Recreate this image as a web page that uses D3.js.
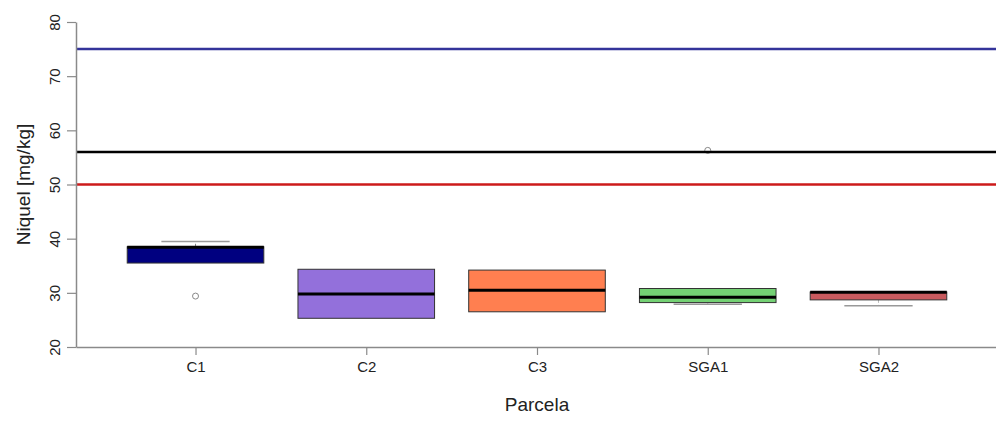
<!DOCTYPE html>
<html>
<head>
<meta charset="utf-8">
<script src="https://cdn.jsdelivr.net/npm/d3@7"></script>
<style>
  html, body { margin: 0; padding: 0; background: #fff; }
  svg { display: block; font-family: "Liberation Sans", Arial, sans-serif; }
</style>
</head>
<body>
<svg id="chart" width="996" height="423"></svg>
<script>
// ---- data ----
const categories = ["C1", "C2", "C3", "SGA1", "SGA2"];
const boxColors = ["#000080", "#9370DB", "#FF7F50", "#74D174", "#C85A5E"];
const q1 = [35.5, 25.3, 26.5, 28.2, 28.7];
const medians = [38.4, 29.8, 30.5, 29.2, 30.1];
const q3 = [38.5, 34.35, 34.2, 30.8, 30.15];
const whiskerLow = [35.5, 25.3, 26.5, 27.9, 27.6];
const whiskerHigh = [39.5, 34.35, 34.2, 30.8, 30.15];
const outliers = [[29.4], [], [], [56.3], []];
const refValues = [75, 56, 50];
const refColors = ["#34349a", "#000000", "#cc1a1a"];
const yTicks = [20, 30, 40, 50, 60, 70, 80];
const yLabel = "Niquel [mg/kg]";
const xLabel = "Parcela";

// ---- layout ----
const mLeft = 76, mRight = 998, mTop = 22, mBottom = 347;
const svg = d3.select("#chart");

const x = d3.scalePoint().domain(categories).range([mLeft, mRight]).padding(0.7);
const y = d3.scaleLinear().domain([20, 80]).range([mBottom, mTop]);
const step = x.step();
const boxW = step * 0.8;
const capW = step * 0.4;
const axisColor = "#8a8a8a";
const textColor = "#222";

const data = categories.map((c, i) => ({
  c, color: boxColors[i], q1: q1[i], med: medians[i], q3: q3[i],
  lo: whiskerLow[i], hi: whiskerHigh[i], out: outliers[i]
}));

const g = svg.append("g");
data.forEach(d => {
  const cx = x(d.c);
  if (d.hi > d.q3) {
    g.append("line").attr("x1", cx).attr("x2", cx).attr("y1", y(d.q3)).attr("y2", y(d.hi))
      .attr("stroke", "#888").attr("stroke-width", 1).attr("stroke-dasharray", "3,2");
    g.append("line").attr("x1", cx - capW / 2).attr("x2", cx + capW / 2).attr("y1", y(d.hi)).attr("y2", y(d.hi))
      .attr("stroke", "#999").attr("stroke-width", 1.5);
  }
  if (d.lo < d.q1) {
    g.append("line").attr("x1", cx).attr("x2", cx).attr("y1", y(d.q1)).attr("y2", y(d.lo))
      .attr("stroke", "#bbb").attr("stroke-width", 1).attr("stroke-dasharray", "3,2");
    g.append("line").attr("x1", cx - capW / 2).attr("x2", cx + capW / 2).attr("y1", y(d.lo)).attr("y2", y(d.lo))
      .attr("stroke", "#999").attr("stroke-width", 1.5);
  }
  g.append("rect").attr("x", cx - boxW / 2).attr("y", y(d.q3))
    .attr("width", boxW).attr("height", y(d.q1) - y(d.q3))
    .attr("fill", d.color).attr("stroke", "#333").attr("stroke-width", 1);
  g.append("line").attr("x1", cx - boxW / 2).attr("x2", cx + boxW / 2)
    .attr("y1", y(d.med)).attr("y2", y(d.med))
    .attr("stroke", "#000").attr("stroke-width", 3);
  d.out.forEach(v => {
    g.append("circle").attr("cx", cx).attr("cy", y(v)).attr("r", 3)
      .attr("fill", "none").attr("stroke", "#888").attr("stroke-width", 1);
  });
});

// reference lines
svg.append("g").selectAll("line").data(refValues).join("line")
  .attr("x1", mLeft).attr("x2", mRight)
  .attr("y1", d => y(d)).attr("y2", d => y(d))
  .attr("stroke", (d, i) => refColors[i]).attr("stroke-width", 2.5);

// y axis
const yAxis = svg.append("g").attr("transform", `translate(${mLeft},0)`)
  .call(d3.axisLeft(y).tickValues(yTicks).tickSize(9).tickSizeOuter(0).tickPadding(7));
yAxis.select(".domain").attr("stroke", axisColor).attr("stroke-width", 1.5);
yAxis.selectAll(".tick line").attr("stroke", axisColor).attr("stroke-width", 1.2);
yAxis.selectAll(".tick text")
  .attr("fill", textColor).attr("font-size", 15)
  .attr("transform", "rotate(-90)")
  .attr("x", 0).attr("y", -16)
  .attr("dy", 0)
  .attr("text-anchor", "middle");

// x axis
const xAxis = svg.append("g").attr("transform", `translate(0,${mBottom})`)
  .call(d3.axisBottom(x).tickSize(8).tickSizeOuter(0).tickPadding(6));
xAxis.select(".domain").attr("stroke", axisColor).attr("stroke-width", 1.5);
xAxis.selectAll(".tick line").attr("stroke", axisColor).attr("stroke-width", 1.2);
xAxis.selectAll(".tick text").attr("fill", textColor).attr("font-size", 15);

// axis titles
svg.append("text")
  .attr("transform", `translate(30,${(mTop + mBottom) / 2}) rotate(-90)`)
  .attr("text-anchor", "middle").attr("font-size", 19).attr("fill", textColor)
  .text(yLabel);
svg.append("text")
  .attr("x", (mLeft + mRight) / 2).attr("y", 411)
  .attr("text-anchor", "middle").attr("font-size", 19).attr("fill", textColor)
  .text(xLabel);
</script>
</body>
</html>
